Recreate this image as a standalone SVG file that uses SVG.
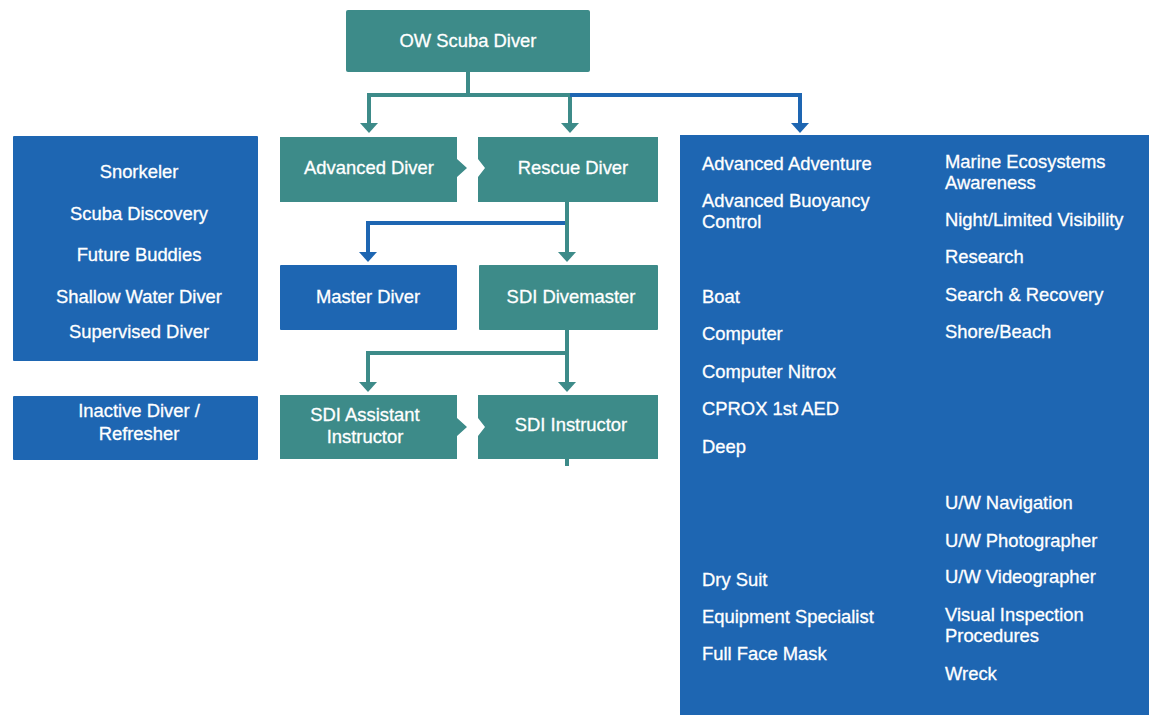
<svg xmlns="http://www.w3.org/2000/svg" width="1149" height="715" viewBox="0 0 1149 715">
<defs>
<style>
.teal{fill:#3d8b89}
.blue{fill:#1e66b2}
.lt{fill:none;stroke:#3d8b89;stroke-width:4}
.lb{fill:none;stroke:#1e66b2;stroke-width:4}
text{font-family:"Liberation Sans",Arial,Helvetica,sans-serif;font-size:18.4px;fill:#ffffff;stroke:#ffffff;stroke-width:0.3}
.c{text-anchor:middle}
</style>
<marker id="at" viewBox="0 0 10 18" refX="5" refY="9" markerWidth="10" markerHeight="18" markerUnits="userSpaceOnUse" orient="auto">
<polygon points="0,0 10,9 0,18" fill="#3d8b89"/>
</marker>
<marker id="ab" viewBox="0 0 10 18" refX="5" refY="9" markerWidth="10" markerHeight="18" markerUnits="userSpaceOnUse" orient="auto">
<polygon points="0,0 10,9 0,18" fill="#1e66b2"/>
</marker>
</defs>
<rect width="1149" height="715" fill="#ffffff"/>
<g id="connectors">
<path class="lt" d="M468,72 V95"/>
<path class="lt" d="M369,95 H572"/>
<path class="lt" d="M369,93 V128" marker-end="url(#at)"/>
<path class="lt" d="M570,95 V128" marker-end="url(#at)"/>
<path class="lb" d="M570,95 H800 V128" marker-end="url(#ab)"/>
<path class="lt" d="M567,200 V257" marker-end="url(#at)"/>
<path class="lb" d="M565,223 H368 V257" marker-end="url(#ab)"/>
<path class="lt" d="M567,330 V387" marker-end="url(#at)"/>
<path class="lt" d="M567,353 H368 V387" marker-end="url(#at)"/>
<path class="lt" d="M567,459 V466"/>
</g>
<g id="ow-scuba-diver">
<rect class="teal" x="346" y="10" width="244" height="62" rx="2"/>
<text class="c" x="468" y="47">OW Scuba Diver</text>
</g>
<g id="advanced-diver">
<path class="teal" d="M280,137 H457 V159 L467,168 L457,177 V202 H280 Z"/>
<text class="c" x="369" y="174">Advanced Diver</text>
</g>
<g id="rescue-diver">
<path class="teal" d="M478,137 H658 V202 H478 V177 L485,168 L478,159 Z"/>
<text class="c" x="573" y="174">Rescue Diver</text>
</g>
<g id="master-diver">
<rect class="blue" x="280" y="265" width="177" height="65" rx="1"/>
<text class="c" x="368" y="303">Master Diver</text>
</g>
<g id="sdi-divemaster">
<rect class="teal" x="479" y="265" width="179" height="65" rx="1"/>
<text class="c" x="571" y="303">SDI Divemaster</text>
</g>
<g id="sdi-assistant-instructor">
<path class="teal" d="M280,395 H457 V418 L467,427 L457,436 V459 H280 Z"/>
<text class="c" x="365" y="421">SDI Assistant</text>
<text class="c" x="365" y="443">Instructor</text>
</g>
<g id="sdi-instructor">
<path class="teal" d="M478,395 H658 V459 H478 V436 L485,427 L478,418 Z"/>
<text class="c" x="571" y="431">SDI Instructor</text>
</g>
<g id="entry-programs">
<rect class="blue" x="13" y="136" width="245" height="225" rx="1"/>
<text class="c" x="139" y="178">Snorkeler</text>
<text class="c" x="139" y="220">Scuba Discovery</text>
<text class="c" x="139" y="261">Future Buddies</text>
<text class="c" x="139" y="303">Shallow Water Diver</text>
<text class="c" x="139" y="338">Supervised Diver</text>
</g>
<g id="inactive-diver">
<rect class="blue" x="13" y="396" width="245" height="64" rx="1"/>
<text class="c" x="139" y="417">Inactive Diver /</text>
<text class="c" x="139" y="440">Refresher</text>
</g>
<g id="specialties">
<rect class="blue" x="680" y="135" width="469" height="580"/>
<text x="702" y="170">Advanced Adventure</text>
<text x="702" y="207">Advanced Buoyancy</text>
<text x="702" y="228">Control</text>
<text x="702" y="303">Boat</text>
<text x="702" y="340">Computer</text>
<text x="702" y="378">Computer Nitrox</text>
<text x="702" y="415">CPROX 1st AED</text>
<text x="702" y="453">Deep</text>
<text x="702" y="586">Dry Suit</text>
<text x="702" y="623">Equipment Specialist</text>
<text x="702" y="660">Full Face Mask</text>
<text x="945" y="168">Marine Ecosystems</text>
<text x="945" y="189">Awareness</text>
<text x="945" y="226">Night/Limited Visibility</text>
<text x="945" y="263">Research</text>
<text x="945" y="301">Search &amp; Recovery</text>
<text x="945" y="338">Shore/Beach</text>
<text x="945" y="509">U/W Navigation</text>
<text x="945" y="547">U/W Photographer</text>
<text x="945" y="583">U/W Videographer</text>
<text x="945" y="621">Visual Inspection</text>
<text x="945" y="642">Procedures</text>
<text x="945" y="680">Wreck</text>
</g>
</svg>
